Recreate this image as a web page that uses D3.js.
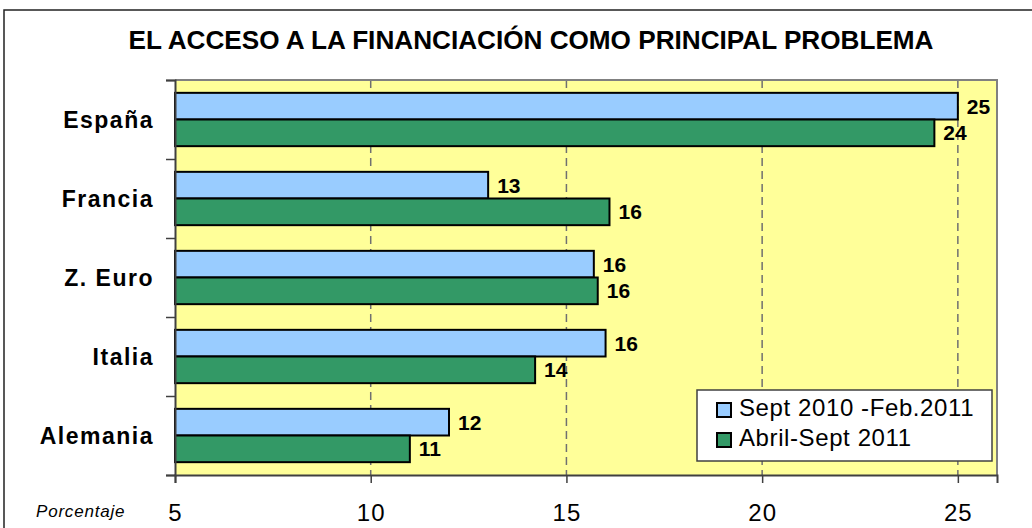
<!DOCTYPE html>
<html>
<head>
<meta charset="utf-8">
<script src="https://cdn.jsdelivr.net/npm/d3@7"></script>
<style>
  html, body { margin: 0; padding: 0; background: #fff; }
  svg { display: block; }
  text { font-family: "Liberation Sans", Arial, sans-serif; }
</style>
</head>
<body>
<svg id="chart" width="1032" height="528"></svg>
<script>
// ---- Data ----
const title = "EL ACCESO A LA FINANCIACIÓN COMO PRINCIPAL PROBLEMA";
const categories = ["España", "Francia", "Z. Euro", "Italia", "Alemania"];
const seriesNames = ["Sept 2010 -Feb.2011", "Abril-Sept 2011"];
const seriesA = [25.0, 13.0, 15.7, 16.0, 12.0];   // Sept 2010 -Feb.2011
const seriesB = [24.4, 16.1, 15.8, 14.2, 11.0];   // Abril-Sept 2011
const xTicks = [5, 10, 15, 20, 25];
const xDomain = [5, 26];
const axisTitle = "Porcentaje";

// ---- Styles ----
const colors = ["#99CCFF", "#339966"];
const plot = { left: 175, right: 997, top: 80, bottom: 475 };

const svg = d3.select("#chart");

// outer frame
svg.append("rect")
  .attr("x", 4).attr("y", 10).attr("width", 1100).attr("height", 600)
  .attr("fill", "#fff").attr("stroke", "#222").attr("stroke-width", 1.5);

// title
svg.append("text")
  .attr("x", 531).attr("y", 49)
  .attr("text-anchor", "middle")
  .attr("font-size", 25).attr("font-weight", "bold")
  .attr("textLength", 805).attr("lengthAdjust", "spacingAndGlyphs")
  .text(title);

// scales
const x = d3.scaleLinear().domain(xDomain).range([plot.left, plot.right]);
const y = d3.scaleBand().domain(categories).range([plot.top, plot.bottom])
  .paddingInner(0.325).paddingOuter(0.1625);
const ySub = d3.scaleBand().domain(d3.range(seriesNames.length)).range([0, y.bandwidth()]);
const yIdx = d3.scaleLinear().domain([0, categories.length]).range([plot.top, plot.bottom]);

// plot background
svg.append("rect")
  .attr("x", plot.left).attr("y", plot.top)
  .attr("width", plot.right - plot.left).attr("height", plot.bottom - plot.top)
  .attr("fill", "#FFFF99");

// gridlines (dashed)
svg.append("g").selectAll("line")
  .data(xTicks.filter(d => d > xDomain[0]))
  .join("line")
  .attr("x1", d => x(d)).attr("x2", d => x(d))
  .attr("y1", plot.top).attr("y2", plot.bottom)
  .attr("stroke", "#707070").attr("stroke-width", 1.5)
  .attr("stroke-dasharray", "8,5");

// plot border top/right
svg.append("path")
  .attr("d", `M${plot.left},${plot.top}H${plot.right}V${plot.bottom}`)
  .attr("fill", "none").attr("stroke", "#808080").attr("stroke-width", 2);

// bars
const rows = categories.map((c, i) => ({ cat: c, vals: [seriesA[i], seriesB[i]] }));
const grp = svg.append("g").selectAll("g")
  .data(rows).join("g")
  .attr("transform", d => `translate(0,${y(d.cat)})`);

grp.selectAll("rect")
  .data(d => d.vals.map((v, j) => ({ v, j })))
  .join("rect")
  .attr("x", x(xDomain[0]))
  .attr("y", d => ySub(d.j))
  .attr("width", d => x(d.v) - x(xDomain[0]))
  .attr("height", ySub.bandwidth())
  .attr("fill", d => colors[d.j])
  .attr("stroke", "#000").attr("stroke-width", 2);

grp.selectAll("text")
  .data(d => d.vals.map((v, j) => ({ v, j })))
  .join("text")
  .attr("x", d => x(d.v) + 9)
  .attr("y", d => ySub(d.j) + ySub.bandwidth() / 2)
  .attr("dy", "0.36em")
  .attr("font-size", 21).attr("font-weight", "bold")
  .text(d => d3.format(".0f")(d.v));

// x axis
const xAxis = svg.append("g")
  .attr("transform", `translate(0,${plot.bottom})`)
  .call(d3.axisBottom(x).tickValues(xTicks).tickSize(8).tickPadding(21).tickFormat(d3.format("d")));
xAxis.select(".domain").attr("stroke", "#404040").attr("stroke-width", 2);
xAxis.selectAll(".tick line").attr("stroke", "#404040").attr("stroke-width", 1.5);
xAxis.selectAll(".tick text")
  .attr("font-size", 24).attr("fill", "#000")
  .attr("font-family", "Liberation Sans, Arial, sans-serif")
  .attr("letter-spacing", 1);

// y axis (category boundary ticks)
const yAxis = svg.append("g")
  .attr("transform", `translate(${plot.left},0)`)
  .call(d3.axisLeft(yIdx).tickValues(d3.range(categories.length + 1)).tickSize(9).tickFormat(""));
yAxis.select(".domain").attr("stroke", "#404040").attr("stroke-width", 2);
yAxis.selectAll(".tick line").attr("stroke", "#404040").attr("stroke-width", 1.5);

// category labels
svg.append("g").selectAll("text")
  .data(categories).join("text")
  .attr("x", 154)
  .attr("y", d => y(d) + y.bandwidth() / 2)
  .attr("dy", "0.36em")
  .attr("text-anchor", "end")
  .attr("font-size", 23).attr("font-weight", "bold")
  .attr("letter-spacing", 1.5)
  .text(d => d);

// axis title
svg.append("text")
  .attr("x", 36).attr("y", 517)
  .attr("font-size", 17).attr("font-style", "italic")
  .attr("letter-spacing", 0.8)
  .text(axisTitle);

// legend
const lg = svg.append("g").attr("transform", "translate(697,390)");
lg.append("rect")
  .attr("width", 295).attr("height", 71)
  .attr("fill", "#fff").attr("stroke", "#404040").attr("stroke-width", 1.5);
const li = lg.selectAll("g.item").data(seriesNames).join("g")
  .attr("class", "item")
  .attr("transform", (d, i) => `translate(20,${13 + i * 30})`);
li.append("rect")
  .attr("width", 14).attr("height", 14)
  .attr("fill", (d, i) => colors[i]).attr("stroke", "#000").attr("stroke-width", 2);
li.append("text")
  .attr("x", 22).attr("y", 13)
  .attr("font-size", 24).attr("letter-spacing", 0.6)
  .text(d => d);
</script>
</body>
</html>
